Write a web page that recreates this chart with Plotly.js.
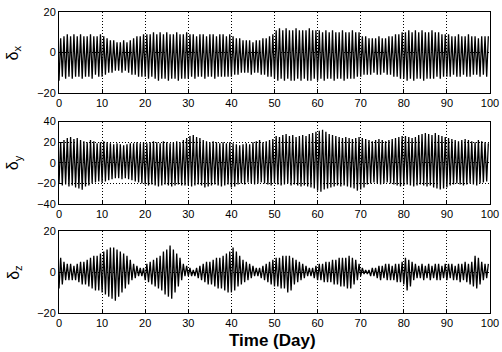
<!DOCTYPE html>
<html>
<head>
<meta charset="utf-8">
<script src="https://cdn.plot.ly/plotly-3.0.1.min.js"></script>
<style>html,body{margin:0;padding:0;background:#fff;}#chart{width:502px;height:352px;}</style>
</head>
<body>
<div id="chart"></div>
<script>
// Time axis: days 0..100, tick labels
const xTicks = [0,10,20,30,40,50,60,70,80,90,100];
const nCycles = 130; // oscillation cycles read over 100 days (~13 per 10 days)

// δx: successive crest / trough values (13 per 10-day block)
const dxHigh = [
  7,8,9,8,9,8,9,8,8,9,8,8,9,
  8,7,6,6,5,5,6,5,6,7,8,8,9,
  9,9,10,9,10,9,10,9,9,10,9,9,10,
  9,9,8,9,9,8,9,9,8,9,9,8,9,
  8,7,7,6,6,6,5,6,6,7,7,8,9,
  11,12,11,12,11,11,12,11,11,11,12,11,11,
  11,10,11,10,11,10,10,11,10,10,11,10,10,
  8,8,7,7,7,8,7,7,8,8,9,9,10,
  10,11,10,11,10,11,10,10,11,10,10,9,9,
  9,8,8,9,8,8,9,8,8,7,8,8,8];
const dxLow = [
  -14,-12,-13,-12,-13,-12,-12,-13,-12,-12,-13,-11,-12,
  -12,-11,-10,-10,-9,-9,-10,-9,-10,-11,-11,-12,-12,
  -12,-13,-12,-13,-14,-13,-13,-14,-13,-13,-14,-13,-13,
  -13,-12,-13,-12,-12,-13,-12,-12,-13,-12,-12,-12,-12,
  -12,-11,-11,-10,-10,-10,-11,-10,-10,-11,-11,-12,-12,
  -13,-14,-13,-14,-13,-14,-14,-13,-14,-13,-14,-14,-13,
  -14,-13,-14,-13,-13,-14,-13,-13,-14,-13,-13,-13,-12,
  -12,-11,-11,-11,-10,-11,-11,-10,-11,-11,-12,-12,-13,
  -13,-14,-13,-14,-13,-13,-14,-13,-13,-13,-12,-13,-12,
  -12,-12,-11,-12,-12,-11,-12,-12,-11,-11,-12,-11,-12];

// δy
const dyHigh = [
  20,22,24,25,23,24,22,21,20,22,21,19,20,
  21,20,19,18,19,18,17,18,19,19,20,19,20,
  19,20,21,20,19,21,20,19,20,21,20,22,24,
  26,27,25,24,22,21,20,21,20,19,20,19,20,
  19,18,17,18,19,18,20,21,22,20,21,22,23,
  26,25,27,28,26,27,25,26,27,26,28,29,30,
  31,32,30,28,27,26,25,24,25,24,23,24,25,
  24,23,22,21,22,23,22,21,22,23,24,25,26,
  26,25,24,25,27,28,29,28,27,29,27,26,25,
  24,23,22,21,22,23,22,21,20,22,21,20,19];
const dyLow = [
  -20,-22,-21,-23,-22,-24,-25,-26,-23,-22,-20,-19,-18,
  -19,-18,-17,-16,-15,-15,-16,-15,-16,-17,-18,-19,-20,
  -21,-22,-21,-22,-23,-22,-21,-22,-23,-22,-21,-22,-22,
  -22,-23,-22,-21,-22,-24,-23,-22,-21,-22,-23,-22,-21,
  -24,-23,-21,-20,-21,-19,-20,-21,-20,-19,-20,-21,-22,
  -20,-21,-22,-21,-20,-22,-21,-22,-23,-22,-23,-24,-25,
  -27,-28,-26,-25,-24,-23,-22,-23,-22,-23,-24,-25,-27,
  -26,-24,-21,-20,-19,-20,-21,-20,-19,-20,-21,-22,-23,
  -22,-21,-22,-23,-22,-21,-22,-23,-22,-24,-25,-26,-25,
  -24,-22,-21,-20,-21,-22,-21,-20,-21,-22,-20,-19,-18];

// δz
const dzHigh = [
  7,5,4,4,3,4,5,5,6,7,8,8,9,
  10,11,12,12,11,10,9,8,6,4,3,2,2,
  4,5,6,7,8,10,11,13,11,9,7,4,3,
  2,1,2,3,4,5,5,6,7,7,8,9,10,
  12,10,8,6,5,4,3,2,2,3,4,5,6,
  7,7,8,8,8,7,6,5,4,3,2,2,3,
  4,4,5,5,6,6,7,7,7,8,7,6,4,
  2,1,1,2,2,3,3,4,4,3,4,4,5,
  7,6,5,4,3,4,3,4,3,4,4,3,4,
  4,4,3,4,4,5,4,5,8,7,5,4,4];
const dzLow = [
  -8,-6,-4,-4,-4,-4,-5,-6,-6,-7,-8,-9,-9,
  -10,-11,-12,-13,-14,-12,-10,-8,-6,-4,-3,-2,-2,
  -4,-5,-6,-7,-8,-9,-11,-12,-13,-10,-7,-4,-2,
  -2,-2,-2,-3,-4,-5,-6,-6,-7,-8,-8,-9,-10,
  -10,-9,-7,-6,-5,-4,-3,-2,-2,-3,-4,-5,-6,
  -7,-7,-8,-8,-10,-9,-6,-5,-4,-3,-2,-2,-3,
  -4,-4,-5,-5,-5,-6,-6,-7,-7,-8,-8,-6,-4,
  -2,-1,-1,-2,-2,-3,-4,-3,-4,-4,-4,-5,-5,
  -6,-9,-7,-4,-3,-3,-4,-3,-4,-3,-4,-4,-3,
  -4,-3,-4,-4,-5,-4,-5,-6,-7,-8,-6,-4,-3];

function series(hi, lo) {
  const P = 100 / nCycles;
  const t = [], v = [];
  for (let i = 0; i < hi.length; i++) {
    t.push(i * P); v.push(lo[i]);
    t.push(i * P + P / 2); v.push(hi[i]);
  }
  return {t, v};
}

const sx = series(dxHigh, dxLow);
const sy = series(dyHigh, dyLow);
const sz = series(dzHigh, dzLow);

const lineStyle = {color: '#000', width: 1.3};
const data = [
  {x: sx.t, y: sx.v, xaxis: 'x', yaxis: 'y', mode: 'lines', line: lineStyle, hoverinfo: 'skip'},
  {x: sy.t, y: sy.v, xaxis: 'x2', yaxis: 'y2', mode: 'lines', line: lineStyle, hoverinfo: 'skip'},
  {x: sz.t, y: sz.v, xaxis: 'x3', yaxis: 'y3', mode: 'lines', line: lineStyle, hoverinfo: 'skip'}
];

const font = 'Liberation Sans, Arial, Helvetica, sans-serif';
const base = {
  showline: true, mirror: true, linecolor: '#000', linewidth: 1,
  ticks: 'inside', ticklen: 4, tickcolor: '#000',
  showgrid: true, gridcolor: '#000', griddash: '1px,2px', gridwidth: 1,
  zeroline: false, tickfont: {family: font, size: 11, color: '#000'}
};
function xa(anchor) {
  return Object.assign({}, base, {anchor: anchor, domain: [0, 1], range: [0, 100],
    tickmode: 'array', tickvals: xTicks, ticktext: xTicks.map(String)});
}
function ya(anchor, dom, r) {
  return Object.assign({}, base, {anchor: anchor, domain: dom, range: r, dtick: 20, tick0: 0});
}

function ytitle(txt, y) {
  return {text: txt, xref: 'paper', yref: 'paper', x: -0.105, y: y, textangle: -90,
    showarrow: false, xanchor: 'center', yanchor: 'middle', font: {family: font, size: 16, color: '#000'}};
}

const layout = {
  width: 502, height: 352,
  margin: {l: 59, r: 12, t: 12, b: 39},
  paper_bgcolor: '#fff', plot_bgcolor: '#fff',
  showlegend: false,
  xaxis: xa('y'), xaxis2: xa('y2'), xaxis3: xa('y3'),
  yaxis: ya('x', [0.731, 1], [-20, 20]),
  yaxis2: ya('x2', [0.362, 0.636], [-40, 40]),
  yaxis3: ya('x3', [0, 0.272], [-20, 20]),
  annotations: [
    ytitle('δ<sub>x</sub>', 0.865),
    ytitle('δ<sub>y</sub>', 0.5),
    ytitle('δ<sub>z</sub>', 0.136),
    {text: '<b>Time (Day)</b>', xref: 'paper', yref: 'paper', x: 0.495, y: -0.09,
     showarrow: false, xanchor: 'center', yanchor: 'middle', font: {family: font, size: 17, color: '#000'}}
  ]
};

Plotly.newPlot('chart', data, layout, {staticPlot: true, displayModeBar: false});
</script>
</body>
</html>
